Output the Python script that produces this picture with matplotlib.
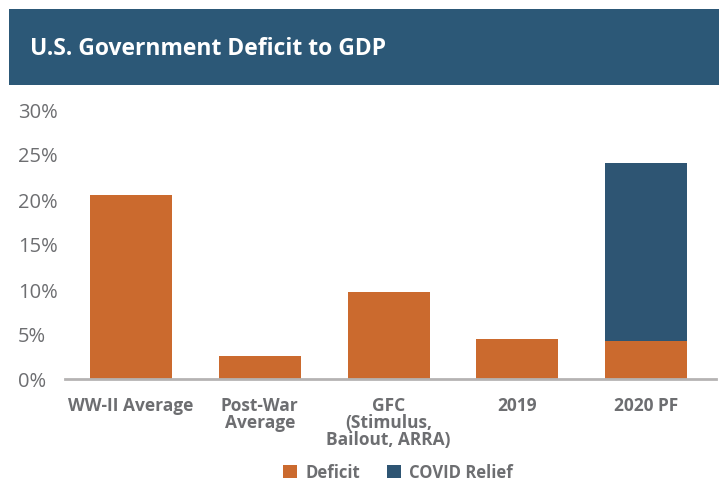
import matplotlib
matplotlib.use("Agg")
import numpy as np
import matplotlib.pyplot as plt
from matplotlib.patches import Rectangle

# data
categories = ["WW-II Average", "Post-War\nAverage", "GFC\n(Stimulus,\nBailout, ARRA)", "2019", "2020 PF"]
deficit = [20.4, 2.6, 9.7, 4.4, 4.2]
covid_relief = [0, 0, 0, 0, 19.8]
y_ticks = [0, 5, 10, 15, 20, 25, 30]

ORANGE = "#CB6A2E"
NAVY = "#2E5573"
HEADER = "#2C5877"
GRAY_TXT = "#6D6E71"
BASE = "#B5B3B3"
FONT = "Open Sans"

W_PX, H_PX = 719, 485
fig = plt.figure(figsize=(W_PX / 100, H_PX / 100), dpi=100)

# header band
fig.patches.append(Rectangle((9 / W_PX, 1 - 86 / H_PX), 1 - 9 / W_PX, 76 / H_PX,
                             transform=fig.transFigure, facecolor=HEADER,
                             edgecolor="none", zorder=0))
fig.text(30 / W_PX, 1 - 49 / H_PX, "U.S. Government Deficit to GDP", color="white",
         fontsize=16.5, fontweight="bold", family=FONT, va="center", ha="left")

ax = fig.add_axes([65 / W_PX, 1 - 380 / H_PX, 651 / W_PX, 270 / H_PX])
x = np.arange(len(categories))
ax.bar(x, deficit, width=0.637, color=ORANGE, label="Deficit", zorder=2)
ax.bar(x, covid_relief, width=0.637, bottom=deficit, color=NAVY, label="COVID Relief", zorder=2)

# baseline runs a little past the last bar slot on the right
ax.set_xlim(-0.513, len(categories) - 1 + 0.544)
ax.set_ylim(0, 30)
ax.set_yticks(y_ticks)
ax.set_yticklabels([f"{t}%" for t in y_ticks], family=FONT, fontsize=14.5, color=GRAY_TXT)
ax.set_xticks(x)
ax.set_xticklabels(categories, family=FONT, fontweight="bold", fontsize=12.5,
                   color=GRAY_TXT, linespacing=0.95, va="top")
ax.tick_params(axis="both", length=0)
ax.tick_params(axis="x", pad=12)
for lab in ax.get_yticklabels():
    lab.set_horizontalalignment("left")
ax.tick_params(axis="y", pad=34)
for s in ["top", "right", "left"]:
    ax.spines[s].set_visible(False)
ax.spines["bottom"].set_color(BASE)
ax.spines["bottom"].set_linewidth(2)
ax.spines["bottom"].set_zorder(3)

leg = fig.legend(loc="center", bbox_to_anchor=(398 / W_PX, 1 - 473 / H_PX), ncol=2,
                 frameon=False, handlelength=0.85, handleheight=0.85, columnspacing=1.6,
                 handletextpad=0.5,
                 prop={"family": FONT, "weight": "bold", "size": 12})
for t in leg.get_texts():
    t.set_color(GRAY_TXT)

fig.savefig("out.png", dpi=100)
